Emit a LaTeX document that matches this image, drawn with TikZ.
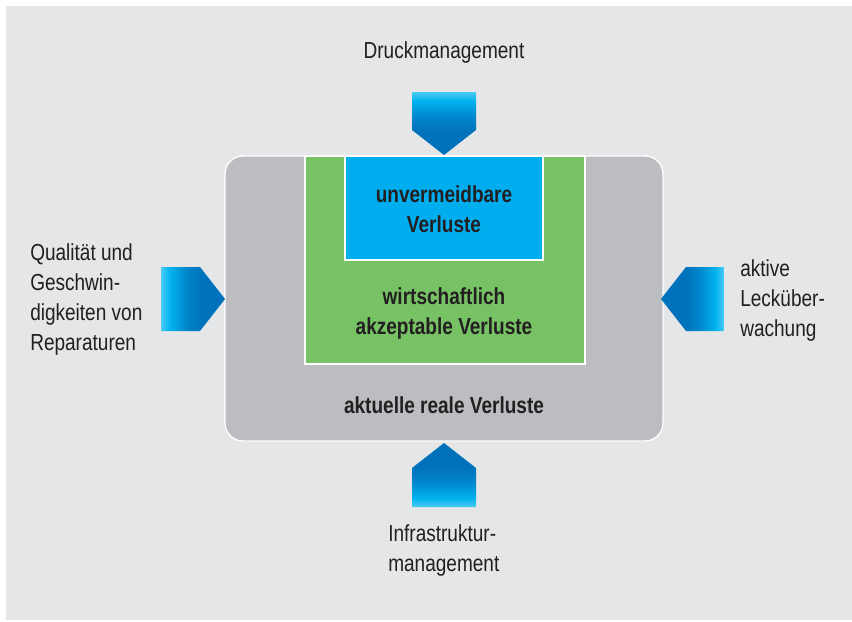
\documentclass[tikz,border=0pt]{standalone}
\usepackage{xcolor}
\usepackage{tikz}
\usepackage{fontspec}
\setmainfont{Liberation Sans}[FakeStretch=0.82]

\definecolor{bggrey}{HTML}{E5E6E7}
\definecolor{boxgrey}{HTML}{BCBDC0}
\definecolor{boxgreen}{HTML}{77C265}
\definecolor{boxblue}{HTML}{00AEEF}
\definecolor{txtdark}{HTML}{231F20}
\definecolor{arrowlight}{HTML}{4DCBF5}
\definecolor{arrowcyan}{HTML}{00B2EE}
\definecolor{arrowdark}{HTML}{0072BC}

\pgfdeclarehorizontalshading{arrowshade}{100bp}{color(0bp)=(arrowlight); color(25bp)=(arrowlight); color(32bp)=(arrowcyan); color(45bp)=(arrowdark!70!arrowcyan); color(56bp)=(arrowdark); color(100bp)=(arrowdark)}

\begin{document}
\begin{tikzpicture}[x=0.75pt,y=0.75pt,yscale=-1,xscale=1,
  txt/.style={text=txtdark,inner sep=0pt,font=\fontsize{17.4}{22.5}\selectfont},
  boxtxt/.style={txt,align=center,font=\fontsize{17.4}{22.5}\selectfont\bfseries}]
%set diagram to the size of the reference
\path[fill=white] (0,0) rectangle (852,621);

%Shape: Rectangle [background]
\fill[bggrey] (6,6) rectangle (852,620);

%Shape: Rounded Rectangle [aktuelle Verluste]
\draw[white,fill=boxgrey,line width=1pt,rounded corners=13.5pt] (225,156) rectangle (663,441);
%Shape: Rectangle [wirtschaftliche Verluste]
\draw[white,fill=boxgreen,line width=1pt] (305,156) rectangle (585,364);
%Shape: Rectangle [unvermeidbare Verluste]
\draw[white,fill=boxblue,line width=1pt] (345,156) rectangle (543,260);

%Shape: Arrow [top]
\shade[shading=arrowshade,shading angle=-90] (412,92) -- (476,92) -- (476,130) -- (444,155) -- (412,130) -- cycle ;
%Shape: Arrow [left]
\shade[shading=arrowshade,shading angle=0] (161,267) -- (200,267) -- (225,299) -- (200,331) -- (161,331) -- cycle ;
%Shape: Arrow [right]
\shade[shading=arrowshade,shading angle=180] (724,267) -- (686,267) -- (661,299) -- (686,331) -- (724,331) -- cycle ;
%Shape: Arrow [bottom]
\shade[shading=arrowshade,shading angle=90] (412,507) -- (476,507) -- (476,468) -- (444,443) -- (412,468) -- cycle ;

% Text Node
\draw (444,53) node (druck) [txt] {Druckmanagement};
% Text Node
\draw (444,209) node (unverm) [boxtxt] {unvermeidbare\\Verluste};
% Text Node
\draw (444,313) node (wirtsch) [boxtxt] {wirtschaftlich\\akzeptable Verluste};
% Text Node
\draw (444,405) node (aktuell) [boxtxt] {aktuelle reale Verluste};
% Text Node
\draw (30,299) node (quali) [txt,anchor=west,align=left] {Qualität und\\Geschwin-\\digkeiten von\\Reparaturen};
% Text Node
\draw (740,300) node (leck) [txt,anchor=west,align=left] {aktive\\Lecküber-\\wachung};
% Text Node
\draw (388,550) node (infra) [txt,anchor=west,align=left] {Infrastruktur-\\management};

\end{tikzpicture}
\end{document}
